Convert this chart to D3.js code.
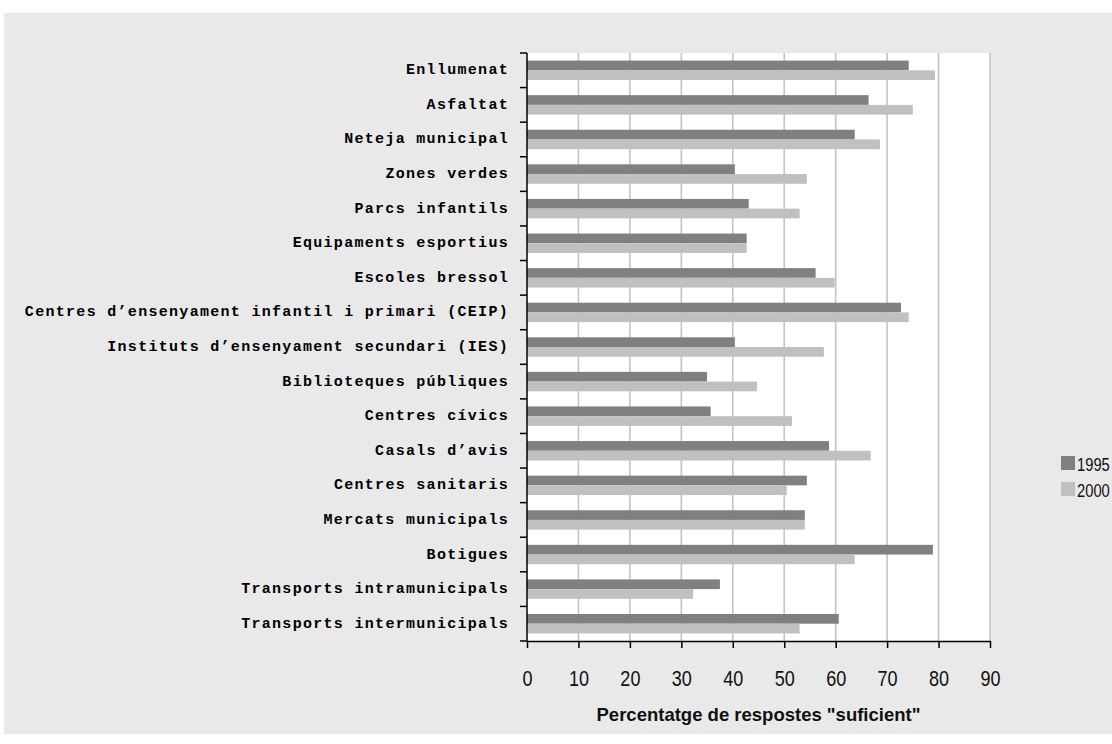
<!DOCTYPE html>
<html>
<head>
<meta charset="utf-8">
<script src="https://cdn.jsdelivr.net/npm/d3@7/dist/d3.min.js"></script>
<style>
  html, body { margin: 0; padding: 0; background: #ffffff; }
  svg { display: block; }
</style>
</head>
<body>
<svg id="chart" width="1112" height="744"></svg>
<script>
const categories = [
  "Enllumenat",
  "Asfaltat",
  "Neteja municipal",
  "Zones verdes",
  "Parcs infantils",
  "Equipaments esportius",
  "Escoles bressol",
  "Centres d’ensenyament infantil i primari (CEIP)",
  "Instituts d’ensenyament secundari (IES)",
  "Biblioteques públiques",
  "Centres cívics",
  "Casals d’avis",
  "Centres sanitaris",
  "Mercats municipals",
  "Botigues",
  "Transports intramunicipals",
  "Transports intermunicipals"
];
const series = ["1995", "2000"];
const values1995 = [74.2, 66.4, 63.7, 40.4, 43.1, 42.7, 56.1, 72.7, 40.4, 35.0, 35.7, 58.7, 54.4, 54.0, 78.9, 37.5, 60.6];
const values2000 = [79.3, 75.0, 68.6, 54.4, 53.0, 42.7, 59.8, 74.2, 57.7, 44.7, 51.5, 66.8, 50.5, 54.0, 63.7, 32.3, 53.0];
const xTicks = [0, 10, 20, 30, 40, 50, 60, 70, 80, 90];
const xTitle = "Percentatge de respostes \"suficient\"";

const colors = { "1995": "#808080", "2000": "#c0c0c0" };
const valuesBySeries = { "1995": values1995, "2000": values2000 };

const svg = d3.select("#chart");
const W = 1112, H = 744;
const plot = { left: 527, right: 990, top: 53, bottom: 641 };

svg.append("rect").attr("x", 0).attr("y", 0).attr("width", W).attr("height", H).attr("fill", "#ffffff");
svg.append("rect").attr("x", 4).attr("y", 13).attr("width", W - 4).attr("height", 721).attr("fill", "#e9e9e9");

const x = d3.scaleLinear().domain([0, 90]).range([plot.left, plot.right]);
const y = d3.scaleBand().domain(categories).range([plot.top, plot.bottom]).padding(0);
const ySub = d3.scaleBand().domain(series).range([0, y.bandwidth()]).paddingInner(0).paddingOuter(0.78);

// plot background
svg.append("rect")
  .attr("x", x(0)).attr("y", plot.top)
  .attr("width", x(90) - x(0)).attr("height", plot.bottom - plot.top)
  .attr("fill", "#ffffff");

// gridlines
svg.append("g").selectAll("line")
  .data(xTicks.filter(d => d > 0))
  .join("line")
  .attr("x1", d => x(d)).attr("x2", d => x(d))
  .attr("y1", plot.top).attr("y2", plot.bottom)
  .attr("stroke", "#c4c4c4").attr("stroke-width", 1.6);

// bars
const rows = categories.map((c, i) => ({ cat: c, i }));
const groups = svg.append("g").selectAll("g")
  .data(rows).join("g")
  .attr("transform", d => `translate(0,${y(d.cat)})`);
groups.selectAll("rect")
  .data(d => series.map(s => ({ s, v: valuesBySeries[s][d.i] })))
  .join("rect")
  .attr("x", x(0))
  .attr("y", d => ySub(d.s))
  .attr("width", d => x(d.v) - x(0))
  .attr("height", ySub.bandwidth())
  .attr("fill", d => colors[d.s]);

// y axis line + ticks at band edges
const edges = categories.map(c => y(c)).concat([plot.bottom]);
svg.append("line")
  .attr("x1", x(0)).attr("x2", x(0))
  .attr("y1", plot.top).attr("y2", plot.bottom)
  .attr("stroke", "#000").attr("stroke-width", 1.5);
svg.append("g").selectAll("line")
  .data(edges).join("line")
  .attr("x1", x(0) - 7).attr("x2", x(0))
  .attr("y1", d => d).attr("y2", d => d)
  .attr("stroke", "#000").attr("stroke-width", 1.5);

// category labels
svg.append("g").selectAll("text")
  .data(categories).join("text")
  .attr("x", 509)
  .attr("y", d => y(d) + y.bandwidth() / 2 + 4)
  .attr("text-anchor", "end")
  .attr("font-family", "'Liberation Mono', 'DejaVu Sans Mono', monospace")
  .attr("font-weight", "bold")
  .attr("font-size", 15)
  .attr("letter-spacing", "1.3px")
  .attr("fill", "#000")
  .text(d => d);

// x axis
const xAxis = d3.axisBottom(x).tickValues(xTicks).tickSize(7).tickSizeOuter(0).tickFormat(d3.format("d"));
const gx = svg.append("g").attr("transform", `translate(0,${plot.bottom})`).call(xAxis);
gx.select(".domain").attr("stroke", "#000").attr("stroke-width", 1.5);
gx.selectAll(".tick line").attr("stroke", "#000").attr("stroke-width", 1.5);
gx.selectAll(".tick text")
  .attr("y", 45).attr("dy", 0)
  .attr("font-family", "'Liberation Sans', Arial, sans-serif")
  .attr("font-size", 22)
  .attr("fill", "#111")
  .attr("transform", "scale(0.82,1)");

// x title
svg.append("text")
  .attr("x", (plot.left + plot.right) / 2)
  .attr("y", 721)
  .attr("text-anchor", "middle")
  .attr("font-family", "'Liberation Sans', Arial, sans-serif")
  .attr("font-weight", "bold")
  .attr("font-size", 18.5)
  .attr("fill", "#111")
  .text(xTitle);

// legend
const legend = svg.append("g").selectAll("g")
  .data(series).join("g")
  .attr("transform", (d, i) => `translate(1061,${456 + i * 26})`);
legend.append("rect")
  .attr("x", 0).attr("y", 0).attr("width", 14).attr("height", 14)
  .attr("fill", d => colors[d]);
legend.append("text")
  .attr("transform", "translate(16,15) scale(0.82,1)")
  .attr("font-family", "'Liberation Sans', Arial, sans-serif")
  .attr("font-size", 18)
  .attr("fill", "#111")
  .text(d => d);
</script>
</body>
</html>
